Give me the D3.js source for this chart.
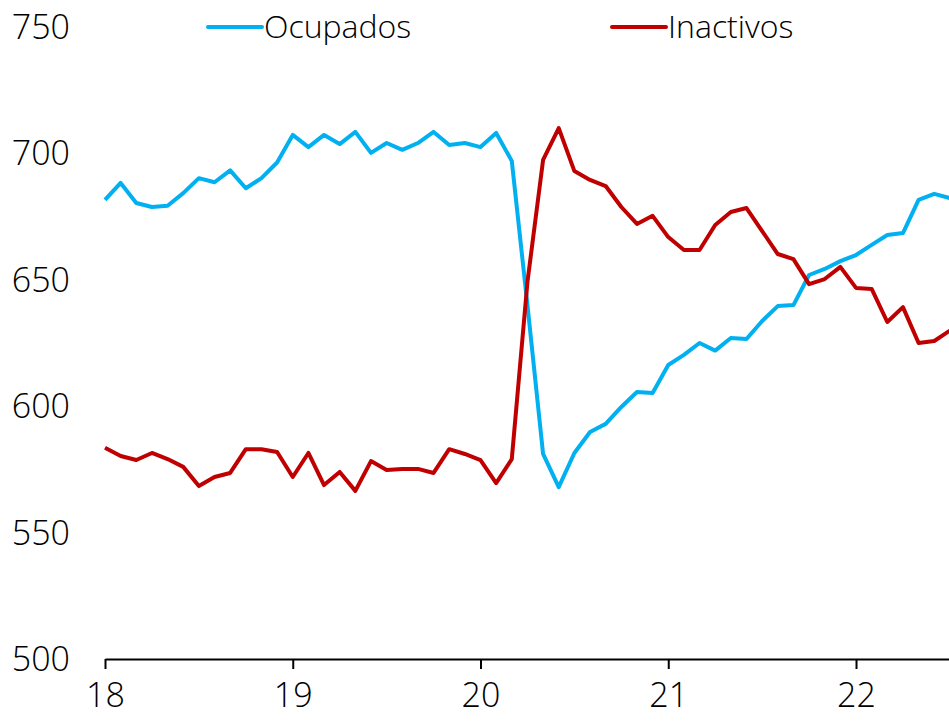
<!DOCTYPE html>
<html>
<head>
<meta charset="utf-8">
<script src="https://cdn.jsdelivr.net/npm/d3@7"></script>
<style>
  html, body { margin: 0; padding: 0; background: #fff; }
  svg { display: block; }
  text { font-family: "Open Sans", sans-serif; font-weight: 300; fill: #000; }
</style>
</head>
<body>
<svg id="chart" width="949" height="721"></svg>
<script>
// Monthly series, thousands of people, starting January 2018
const startYear = 2018;
const ocupados = [
  681.6, 688.3, 680.4, 678.8, 679.3, 684.3, 690.2, 688.6, 693.3, 686.2, 690.2, 696.4,
  707.3, 702.5, 707.3, 703.7, 708.5, 700.2, 704.1, 701.4, 704.1, 708.5, 703.3, 704.1,
  702.5, 708.1, 697.0, 640.0, 581.1, 568.0, 581.5, 589.8, 593.0, 599.7, 605.6, 605.2,
  616.3, 620.3, 625.0, 622.0, 627.0, 626.6, 633.7, 639.6, 640.0, 651.9, 654.3, 657.4,
  659.8, 663.8, 667.7, 668.5, 681.6, 684.0, 682.3
];
const inactivos = [
  583.6, 580.3, 578.7, 581.5, 579.1, 576.0, 568.4, 572.0, 573.6, 583.0, 583.0, 581.9,
  572.0, 581.5, 568.8, 574.0, 566.5, 578.3, 574.8, 575.2, 575.2, 573.6, 583.0, 581.1,
  578.7, 569.6, 579.1, 649.1, 697.4, 710.0, 693.0, 689.5, 687.1, 678.8, 672.1, 675.3,
  666.9, 661.8, 661.8, 671.7, 676.8, 678.4, 669.3, 660.2, 658.2, 648.3, 650.3, 655.1,
  646.8, 646.4, 633.3, 639.2, 625.0, 625.8, 629.9
];
const yTicks = [500, 550, 600, 650, 700, 750];
const yearTicks = [0, 12, 24, 36, 48];
const yearLabels = ["18", "19", "20", "21", "22"];
const seriesNames = ["Ocupados", "Inactivos"];
const seriesColors = ["#00B0F0", "#C00000"];

const svg = d3.select("#chart");

const monthStep = 15.646;
const x = d3.scaleLinear().domain([0, 60]).range([105, 105 + 60 * monthStep]);
const y = d3.scaleLinear().domain([500, 750]).range([659, 27]);

// Value labels on the left, no axis line
svg.append("g")
  .selectAll("text")
  .data(yTicks)
  .join("text")
  .attr("x", 70)
  .attr("y", d => y(d))
  .attr("dy", "0.35em")
  .attr("text-anchor", "end")
  .style("font-size", "34px")
  .text(d => d);

// Horizontal axis with yearly ticks
const xAxis = d3.axisBottom(x)
  .tickValues(yearTicks)
  .tickFormat((d, i) => yearLabels[i])
  .tickSize(10)
  .tickSizeOuter(0)
  .tickPadding(14);

const gx = svg.append("g")
  .attr("transform", `translate(0,${y(500)})`)
  .call(xAxis);
gx.select(".domain").attr("stroke", "#000").attr("stroke-width", 2.2);
gx.selectAll(".tick line").attr("stroke", "#000").attr("stroke-width", 2);
gx.selectAll(".tick text")
  .style("font-family", "'Open Sans', sans-serif")
  .style("font-weight", 300)
  .style("font-size", "34px")
  .attr("fill", "#000");

// Series lines
const line = d3.line()
  .x((d, i) => x(i))
  .y(d => y(d));

[ocupados, inactivos].forEach((s, k) => {
  svg.append("path")
    .datum(s)
    .attr("fill", "none")
    .attr("stroke", seriesColors[k])
    .attr("stroke-width", 4)
    .attr("stroke-linejoin", "round")
    .attr("d", line);
});

// Legend along the top
const legendX = [208, 612];
seriesNames.forEach((name, k) => {
  const g = svg.append("g").attr("transform", `translate(${legendX[k]},27)`);
  g.append("line")
    .attr("x1", 0).attr("x2", 54)
    .attr("y1", 0).attr("y2", 0)
    .attr("stroke", seriesColors[k])
    .attr("stroke-width", 4)
    .attr("stroke-linecap", "round");
  g.append("text")
    .attr("x", 56)
    .attr("y", 0)
    .attr("dy", "0.35em")
    .style("font-size", "32px")
    .text(name);
});
</script>
</body>
</html>
